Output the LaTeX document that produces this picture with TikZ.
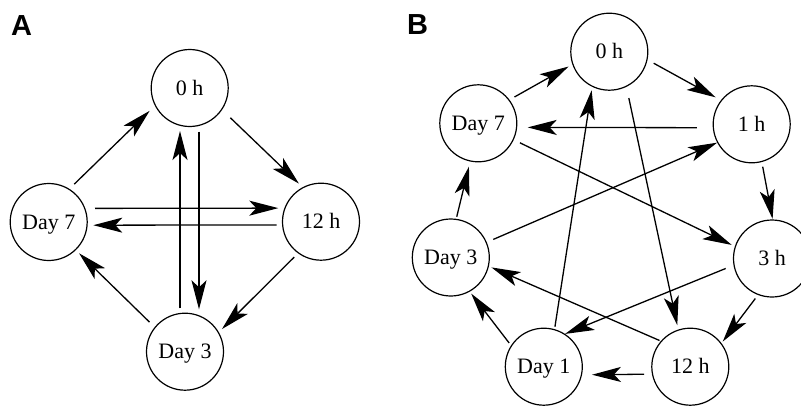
\documentclass[tikz,border=0pt]{standalone}
\usepackage{fontspec}
\setmainfont{Liberation Serif}
\newfontfamily\lblfont{Liberation Sans}
\usetikzlibrary{arrows.meta}
\tikzset{
  st/.style={circle, draw, line width=1.2pt, minimum size=77pt, inner sep=0pt,
    text height=14.5pt, text depth=0pt, font=\fontsize{22}{22}\selectfont},
  arr/.style={line width=1.3pt, -{Stealth[length=29pt,width=15pt,inset=7pt]}},
  panel/.style={font=\lblfont\bfseries\fontsize{29}{29}\selectfont, anchor=base, inner sep=0pt}
}
\begin{document}
\begin{tikzpicture}[x=1pt,y=-1pt]
\useasboundingbox (0,0) rectangle (801,410);
\clip (0,0) rectangle (801,410);
% Panel A
\node[panel] (la) at (21.6,35) {A};
\node[st] (zero) at (189.7,88) {0 h};
\node[st] (d7) at (48.7,222) {Day 7};
\node[st] (h12) at (321,221.7) {12 h};
\node[st] (d3) at (185,351.7) {Day 3};
\draw[arr, shorten <=6.8pt, shorten >=7.3pt] (d7.58) -- (zero.207);
\draw[arr, shorten <=11.4pt, shorten >=5.2pt] (zero.326) -- (h12.118);
\draw[arr, shorten <=5.3pt, shorten >=4.4pt] (h12.234) -- (d3.30);
\draw[arr, shorten <=7.1pt, shorten >=4.5pt] (d3.141) -- (d7.314);
\draw[arr, shorten <=7.2pt, shorten >=3.6pt] ([yshift=13.6pt]d7.east) -- ([yshift=13.6pt]h12.west);
\draw[arr, shorten <=5.2pt, shorten >=5.5pt] ([yshift=-3.2pt]h12.west) -- ([yshift=-3.2pt]d7.east);
\draw[arr, shorten <=4.3pt, shorten >=3.9pt] ([xshift=-5pt]d3.north) -- ([xshift=-5pt]d3.north |- zero.south);
\draw[arr, shorten <=4.6pt, shorten >=3.3pt] ([xshift=9.3pt]zero.south) -- ([xshift=9.3pt]zero.south |- d3.north);
% Panel B
\node[panel] (lb) at (417.5,34.5) {B};
\node[st] (b0) at (609.3,51.7) {0 h};
\node[st] (b1) at (751.7,124.3) {1 h};
\node[st] (b3) at (772,258.5) {3 h};
\node[st] (b7) at (478.3,123.3) {Day 7};
\node[st] (bd3) at (450.8,257.5) {Day 3};
\node[st] (bd1) at (543.8,366.7) {Day 1};
\node[st] (b12) at (690.3,366.7) {12 h};
\draw[arr, shorten <=5.7pt, shorten >=4.3pt] (b7.37) -- (b0.199);
\draw[arr, shorten <=7pt, shorten >=6pt] (b0.348) -- (b1.142);
\draw[arr, shorten <=16pt, shorten >=10.5pt] (b1.185) -- (b7.354);
\draw[arr, shorten <=4.7pt, shorten >=0.5pt] (b1.285) -- (b3.89);
\draw[arr, shorten <=6.9pt, shorten >=3.4pt] (b7.335) -- (b3.162);
\draw[arr, shorten <=7.1pt, shorten >=0pt] (bd3.23) -- (b1.208);
\draw[arr, shorten <=8.4pt, shorten >=0pt] (b3.190) -- (bd1.57);
\draw[arr, shorten <=4.4pt, shorten >=2pt] (b3.249) -- (b12.37);
\draw[arr, shorten <=11.4pt, shorten >=4.4pt] (b0.296) -- (b12.108);
\draw[arr, shorten <=2.4pt, shorten >=3.4pt] (bd1.74) -- (b0.244);
\draw[arr, shorten <=1.4pt, shorten >=2.8pt] (b12.139) -- (bd3.347);
\draw[arr, shorten <=7.8pt, shorten >=9.9pt] (b12.191) -- (bd1.348);
\draw[arr, shorten <=3pt, shorten >=2.4pt] (bd1.147) -- (bd3.299);
\draw[arr, shorten <=2.1pt, shorten >=5.2pt] (bd3.82) -- (b7.258);
\end{tikzpicture}
\end{document}
